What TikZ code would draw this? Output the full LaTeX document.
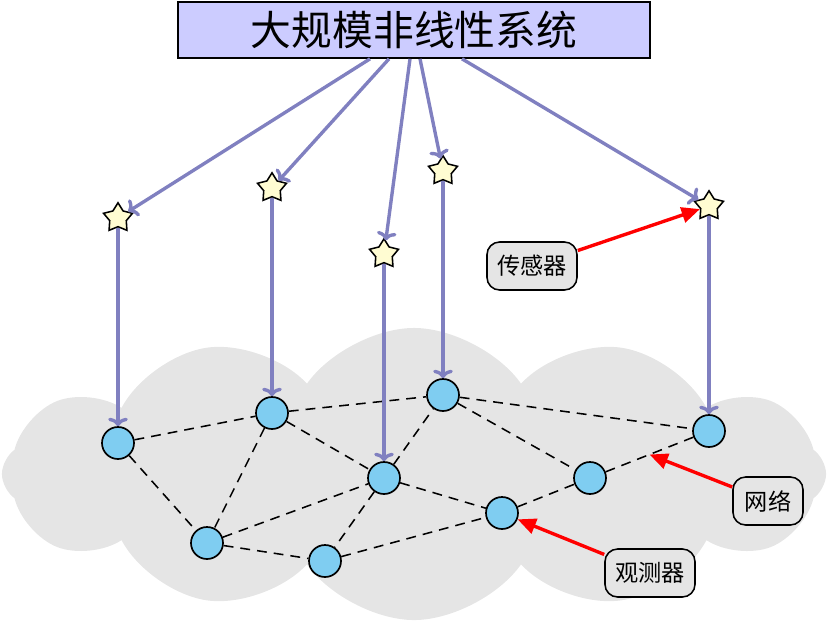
\documentclass[tikz,border=0pt]{standalone}
\usepackage{fontspec}
\newfontfamily\cjk{Noto Sans CJK SC}
\usetikzlibrary{shapes.geometric,shapes.symbols,arrows.meta,calc}

\definecolor{linkblue}{RGB}{128,128,192}
\definecolor{nodeblue}{RGB}{127,205,241}
\definecolor{starfill}{RGB}{255,252,210}
\definecolor{cloudgray}{RGB}{229,229,229}

\begin{document}
\begin{tikzpicture}[
    x=0.025cm, y=-0.025cm,
    sys/.style={draw, line width=1.2pt, fill=blue!20, minimum width=11.8cm,
                minimum height=1.4cm, font=\cjk\fontsize{29}{32}\selectfont},
    sensor/.style={star, star points=5, star point ratio=1.75, draw, fill=starfill,
                   line width=1.1pt, minimum size=0.76cm, inner sep=0pt},
    agent/.style={circle, draw, fill=nodeblue, line width=1.2pt,
                  minimum size=0.8cm, inner sep=0pt},
    labelbox/.style={draw, rounded corners=9pt, fill=cloudgray, line width=1.1pt,
                     minimum width=2.25cm, minimum height=1.2cm,
                     font=\cjk\fontsize{16.5}{19}\selectfont},
    link/.style={linkblue, line width=2.4pt,
                 -{Computer Modern Rightarrow[length=6pt,width=14pt]}},
    wire/.style={dash pattern=on 7pt off 5pt, line width=1.1pt},
    pointer/.style={red, line width=2.4pt, -{Triangle[length=13pt,width=11pt]}}
]
    \useasboundingbox (0,0) rectangle (828,627);

    % network cloud
    \node[cloud, cloud puffs=12, cloud puff arc=110, cloud ignores aspect,
          fill=cloudgray, minimum width=20.6cm, minimum height=7.3cm] (haze) at (414,474) {};

    % system
    \node[sys] (title) at (414,30) {大规模非线性系统};

    % sensors
    \node[sensor] (s1) at (118,218) {};
    \node[sensor] (s2) at (272,188) {};
    \node[sensor] (s3) at (384,254) {};
    \node[sensor] (s4) at (443,171) {};
    \node[sensor] (s5) at (709,206) {};

    % agents
    \node[agent] (n1) at (118,443) {};
    \node[agent] (n2) at (272,413) {};
    \node[agent] (n3) at (384,478) {};
    \node[agent] (n4) at (443,395) {};
    \node[agent] (n5) at (709,431) {};
    \node[agent] (n6) at (590,478) {};
    \node[agent] (n7) at (502,513) {};
    \node[agent] (n8) at (207,543) {};
    \node[agent] (n9) at (325,561) {};

    \foreach \a/\b in {n1/n2, n1/n8, n2/n4, n2/n3, n2/n8, n8/n3, n8/n9, n3/n4,
                       n3/n9, n3/n7, n9/n7, n4/n6, n4/n5, n6/n5, n7/n6}
        \draw[wire] (\a) -- (\b);

    % measurements
    \draw[link] ($(title.south)+(-44,0)$) -- (s1);
    \draw[link] ($(title.south)+(-25,0)$) -- (s2);
    \draw[link] ($(title.south)+(-4,0)$) -- (s3);
    \draw[link] ($(title.south)+(6,0)$) -- (s4);
    \draw[link] ($(title.south)+(48,0)$) -- (s5);
    \foreach \i in {1,...,5}
        \draw[link] (s\i) -- (n\i);

    % labels
    \node[labelbox] (sensorlbl) at (532,266) {传感器};
    \node[labelbox, minimum width=1.75cm] (netlbl) at (768,501) {网络};
    \node[labelbox] (obslbl) at (650,573) {观测器};

    \coordinate (netpt) at ($(n6)!0.5!(n5)$);
    \draw[pointer] (sensorlbl) -- (s5);
    \draw[pointer] (netlbl) -- (netpt);
    \draw[pointer] (obslbl) -- (n7);
\end{tikzpicture}
\end{document}
